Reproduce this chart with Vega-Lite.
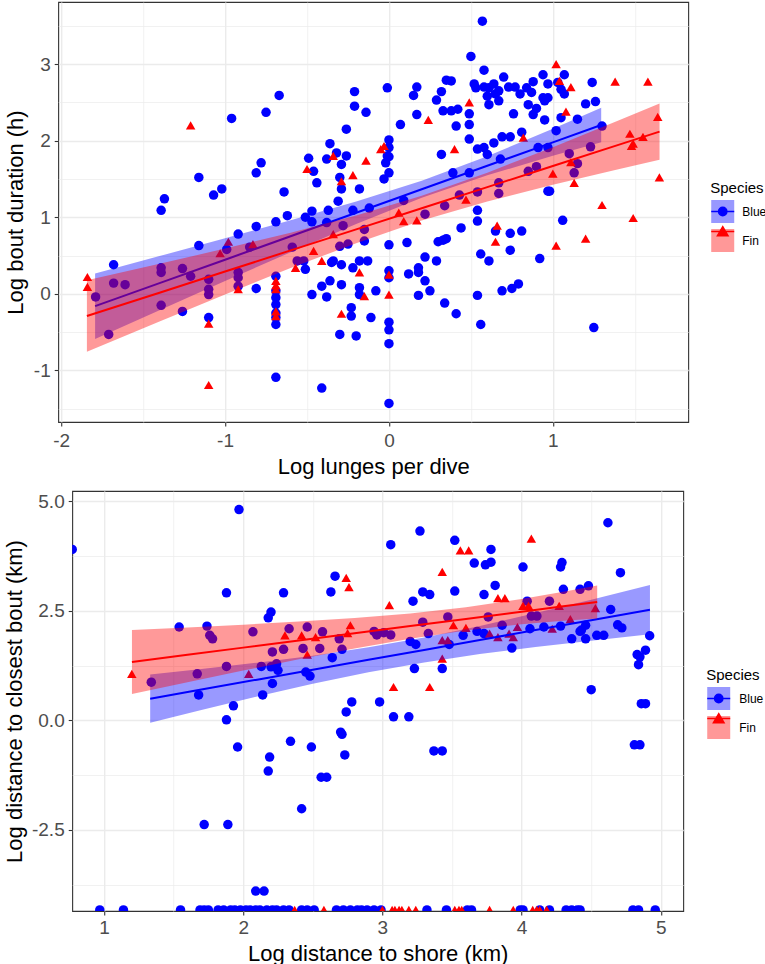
{
  "$schema": "https://vega.github.io/schema/vega-lite/v6.json",
  "background": "white",
  "padding": {"left": 2, "top": 1, "right": 0, "bottom": 0},
  "config": {
    "font": "Liberation Sans",
    "view": {"stroke": "#333333", "strokeWidth": 1.1},
    "axis": {
      "domain": false,
      "grid": true,
      "gridColor": "#EBEBEB",
      "tickColor": "#333333",
      "tickSize": 4,
      "tickWidth": 1.1,
      "labelColor": "#4D4D4D",
      "labelFontSize": 19,
      "labelFont": "Liberation Sans",
      "labelFlush": false,
      "labelOverlap": false,
      "titleFont": "Liberation Sans",
      "titleFontSize": 22,
      "titleFontWeight": "normal",
      "titleColor": "#000000"
    },
    "legend": {
      "orient": "none",
      "padding": 0,
      "titleFont": "Liberation Sans",
      "titleFontSize": 15,
      "titleFontWeight": "normal",
      "titleColor": "#000000",
      "titlePadding": 3,
      "labelFont": "Liberation Sans",
      "labelFontSize": 12,
      "labelColor": "#000000",
      "labelOffset": 8,
      "symbolSize": 529,
      "symbolStrokeWidth": 1.5,
      "rowPadding": 0
    }
  },
  "datasets": {
    "top_pts": [
      {"x": -1.68, "y": 0.38, "species": "Blue"}, {"x": -1.68, "y": 0.14, "species": "Blue"}, {"x": -1.61, "y": 0.12, "species": "Blue"},
      {"x": -1.79, "y": -0.04, "species": "Blue"}, {"x": -1.71, "y": -0.53, "species": "Blue"}, {"x": -1.37, "y": 1.24, "species": "Blue"},
      {"x": -1.39, "y": 1.09, "species": "Blue"}, {"x": -1.39, "y": 0.34, "species": "Blue"}, {"x": -1.39, "y": 0.28, "species": "Blue"},
      {"x": -1.39, "y": -0.15, "species": "Blue"}, {"x": -1.26, "y": 0.33, "species": "Blue"}, {"x": -1.21, "y": 0.23, "species": "Blue"},
      {"x": -1.26, "y": -0.23, "species": "Blue"}, {"x": -1.16, "y": 0.63, "species": "Blue"}, {"x": -1.16, "y": 1.52, "species": "Blue"},
      {"x": -1.10, "y": 0.19, "species": "Blue"}, {"x": -1.10, "y": 0.06, "species": "Blue"}, {"x": -1.10, "y": -0.01, "species": "Blue"},
      {"x": -1.10, "y": -0.31, "species": "Blue"}, {"x": -1.07, "y": 1.29, "species": "Blue"}, {"x": -1.02, "y": 1.37, "species": "Blue"},
      {"x": -0.99, "y": 0.58, "species": "Blue"}, {"x": -0.96, "y": 2.29, "species": "Blue"}, {"x": -0.92, "y": 0.78, "species": "Blue"},
      {"x": -0.92, "y": 0.28, "species": "Blue"}, {"x": -0.92, "y": 0.21, "species": "Blue"}, {"x": -0.92, "y": 0.10, "species": "Blue"},
      {"x": -0.85, "y": 0.61, "species": "Blue"}, {"x": -0.81, "y": 0.88, "species": "Blue"}, {"x": -0.81, "y": 0.07, "species": "Blue"},
      {"x": -0.81, "y": 1.58, "species": "Blue"}, {"x": -0.78, "y": 1.71, "species": "Blue"}, {"x": -0.75, "y": 2.37, "species": "Blue"},
      {"x": -0.67, "y": 2.59, "species": "Blue"}, {"x": -0.69, "y": 0.94, "species": "Blue"}, {"x": -0.69, "y": 0.23, "species": "Blue"},
      {"x": -0.69, "y": 0.04, "species": "Blue"}, {"x": -0.69, "y": -0.05, "species": "Blue"}, {"x": -0.69, "y": -0.14, "species": "Blue"},
      {"x": -0.69, "y": -0.25, "species": "Blue"}, {"x": -0.69, "y": -0.31, "species": "Blue"}, {"x": -0.69, "y": -0.40, "species": "Blue"},
      {"x": -0.69, "y": -1.09, "species": "Blue"}, {"x": -0.64, "y": 1.33, "species": "Blue"}, {"x": -0.62, "y": 1.02, "species": "Blue"},
      {"x": -0.59, "y": 0.61, "species": "Blue"}, {"x": -0.56, "y": 0.43, "species": "Blue"}, {"x": -0.52, "y": 0.43, "species": "Blue"},
      {"x": -0.51, "y": 0.32, "species": "Blue"}, {"x": -0.51, "y": 1.00, "species": "Blue"}, {"x": -0.49, "y": 1.77, "species": "Blue"},
      {"x": -0.47, "y": 0.94, "species": "Blue"}, {"x": -0.46, "y": 1.60, "species": "Blue"}, {"x": -0.44, "y": 1.45, "species": "Blue"},
      {"x": -0.47, "y": 1.08, "species": "Blue"}, {"x": -0.47, "y": -0.01, "species": "Blue"}, {"x": -0.41, "y": -1.23, "species": "Blue"},
      {"x": -0.41, "y": 0.10, "species": "Blue"}, {"x": -0.38, "y": -0.04, "species": "Blue"}, {"x": -0.38, "y": 0.93, "species": "Blue"},
      {"x": -0.37, "y": 1.09, "species": "Blue"}, {"x": -0.38, "y": 1.76, "species": "Blue"}, {"x": -0.36, "y": 1.96, "species": "Blue"},
      {"x": -0.35, "y": 0.41, "species": "Blue"}, {"x": -0.36, "y": 0.17, "species": "Blue"}, {"x": -0.32, "y": 1.84, "species": "Blue"},
      {"x": -0.29, "y": 1.69, "species": "Blue"}, {"x": -0.30, "y": 1.52, "species": "Blue"}, {"x": -0.29, "y": 1.37, "species": "Blue"},
      {"x": -0.26, "y": 1.80, "species": "Blue"}, {"x": -0.26, "y": 2.15, "species": "Blue"}, {"x": -0.21, "y": 2.64, "species": "Blue"},
      {"x": -0.21, "y": 2.45, "species": "Blue"}, {"x": -0.14, "y": 2.37, "species": "Blue"}, {"x": -0.18, "y": 1.37, "species": "Blue"},
      {"x": -0.22, "y": 1.09, "species": "Blue"}, {"x": -0.31, "y": 1.21, "species": "Blue"}, {"x": -0.30, "y": 0.62, "species": "Blue"},
      {"x": -0.25, "y": 0.65, "species": "Blue"}, {"x": -0.28, "y": 0.89, "species": "Blue"}, {"x": -0.34, "y": 0.43, "species": "Blue"},
      {"x": -0.29, "y": 0.38, "species": "Blue"}, {"x": -0.29, "y": 0.12, "species": "Blue"}, {"x": -0.22, "y": 0.34, "species": "Blue"},
      {"x": -0.18, "y": 0.43, "species": "Blue"}, {"x": -0.13, "y": 0.43, "species": "Blue"}, {"x": -0.18, "y": 0.08, "species": "Blue"},
      {"x": -0.18, "y": -0.01, "species": "Blue"}, {"x": -0.23, "y": -0.18, "species": "Blue"}, {"x": -0.23, "y": -0.29, "species": "Blue"},
      {"x": -0.11, "y": -0.31, "species": "Blue"}, {"x": -0.15, "y": 0.84, "species": "Blue"}, {"x": -0.15, "y": 0.69, "species": "Blue"},
      {"x": -0.12, "y": 1.12, "species": "Blue"}, {"x": -0.08, "y": 0.04, "species": "Blue"}, {"x": -0.30, "y": -0.53, "species": "Blue"},
      {"x": -0.20, "y": -0.55, "species": "Blue"},
      {"x": 0.57, "y": 3.56, "species": "Blue"}, {"x": 0.50, "y": 3.10, "species": "Blue"}, {"x": 0.58, "y": 2.92, "species": "Blue"},
      {"x": -0.01, "y": 2.69, "species": "Blue"}, {"x": 0.17, "y": 2.70, "species": "Blue"}, {"x": 0.15, "y": 2.59, "species": "Blue"},
      {"x": 0.32, "y": 2.64, "species": "Blue"}, {"x": 0.35, "y": 2.79, "species": "Blue"}, {"x": 0.38, "y": 2.78, "species": "Blue"},
      {"x": 0.29, "y": 2.53, "species": "Blue"}, {"x": 0.33, "y": 2.39, "species": "Blue"}, {"x": 0.38, "y": 2.39, "species": "Blue"},
      {"x": 0.42, "y": 2.41, "species": "Blue"}, {"x": 0.17, "y": 2.34, "species": "Blue"}, {"x": 0.07, "y": 2.21, "species": "Blue"},
      {"x": 0.41, "y": 2.19, "species": "Blue"}, {"x": 0.49, "y": 2.35, "species": "Blue"}, {"x": 0.49, "y": 2.21, "species": "Blue"},
      {"x": 0.49, "y": 2.02, "species": "Blue"}, {"x": 0.00, "y": 2.01, "species": "Blue"}, {"x": 0.00, "y": 1.91, "species": "Blue"},
      {"x": -0.01, "y": 1.80, "species": "Blue"}, {"x": 0.00, "y": 1.79, "species": "Blue"}, {"x": -0.02, "y": 1.71, "species": "Blue"},
      {"x": -0.03, "y": 1.50, "species": "Blue"}, {"x": 0.00, "y": 1.58, "species": "Blue"}, {"x": 0.32, "y": 1.82, "species": "Blue"},
      {"x": 0.39, "y": 1.58, "species": "Blue"}, {"x": 0.49, "y": 1.58, "species": "Blue"}, {"x": 0.54, "y": 1.89, "species": "Blue"},
      {"x": 0.58, "y": 1.91, "species": "Blue"}, {"x": 0.60, "y": 1.82, "species": "Blue"}, {"x": 0.64, "y": 1.97, "species": "Blue"},
      {"x": 0.69, "y": 2.05, "species": "Blue"}, {"x": 0.74, "y": 2.05, "species": "Blue"}, {"x": 0.68, "y": 1.76, "species": "Blue"},
      {"x": 0.52, "y": 2.74, "species": "Blue"}, {"x": 0.53, "y": 2.69, "species": "Blue"}, {"x": 0.58, "y": 2.70, "species": "Blue"},
      {"x": 0.61, "y": 2.69, "species": "Blue"}, {"x": 0.64, "y": 2.74, "species": "Blue"}, {"x": 0.67, "y": 2.65, "species": "Blue"},
      {"x": 0.60, "y": 2.58, "species": "Blue"}, {"x": 0.65, "y": 2.61, "species": "Blue"}, {"x": 0.70, "y": 2.83, "species": "Blue"},
      {"x": 0.73, "y": 2.70, "species": "Blue"}, {"x": 0.77, "y": 2.70, "species": "Blue"}, {"x": 0.80, "y": 2.61, "species": "Blue"},
      {"x": 0.84, "y": 2.69, "species": "Blue"}, {"x": 0.88, "y": 2.77, "species": "Blue"}, {"x": 0.87, "y": 2.63, "species": "Blue"},
      {"x": 0.94, "y": 2.86, "species": "Blue"}, {"x": 0.97, "y": 2.74, "species": "Blue"}, {"x": 0.94, "y": 2.56, "species": "Blue"},
      {"x": 0.95, "y": 2.52, "species": "Blue"}, {"x": 0.97, "y": 2.56, "species": "Blue"}, {"x": 1.03, "y": 2.76, "species": "Blue"},
      {"x": 1.07, "y": 2.86, "species": "Blue"}, {"x": 1.07, "y": 2.61, "species": "Blue"}, {"x": 1.05, "y": 2.67, "species": "Blue"},
      {"x": 0.61, "y": 2.47, "species": "Blue"}, {"x": 0.67, "y": 2.52, "species": "Blue"}, {"x": 0.76, "y": 2.35, "species": "Blue"},
      {"x": 0.85, "y": 2.47, "species": "Blue"}, {"x": 0.90, "y": 2.42, "species": "Blue"}, {"x": 0.88, "y": 2.34, "species": "Blue"},
      {"x": 0.95, "y": 2.27, "species": "Blue"}, {"x": 1.05, "y": 2.30, "species": "Blue"}, {"x": 1.15, "y": 2.28, "species": "Blue"},
      {"x": 1.24, "y": 2.76, "species": "Blue"}, {"x": 1.26, "y": 2.51, "species": "Blue"}, {"x": 1.20, "y": 2.48, "species": "Blue"},
      {"x": 1.30, "y": 2.19, "species": "Blue"}, {"x": 1.02, "y": 2.13, "species": "Blue"}, {"x": 0.81, "y": 2.11, "species": "Blue"},
      {"x": 0.91, "y": 1.91, "species": "Blue"}, {"x": 0.97, "y": 1.91, "species": "Blue"}, {"x": 1.23, "y": 1.92, "species": "Blue"},
      {"x": 1.10, "y": 1.83, "species": "Blue"}, {"x": 1.15, "y": 1.70, "species": "Blue"}, {"x": 1.13, "y": 1.58, "species": "Blue"},
      {"x": 0.90, "y": 1.66, "species": "Blue"}, {"x": 0.85, "y": 1.60, "species": "Blue"}, {"x": 0.67, "y": 1.45, "species": "Blue"},
      {"x": 0.67, "y": 1.31, "species": "Blue"}, {"x": 0.54, "y": 1.33, "species": "Blue"}, {"x": 0.43, "y": 1.29, "species": "Blue"},
      {"x": 0.34, "y": 1.15, "species": "Blue"}, {"x": 0.22, "y": 1.04, "species": "Blue"}, {"x": 0.09, "y": 1.22, "species": "Blue"},
      {"x": 0.54, "y": 1.09, "species": "Blue"}, {"x": 0.54, "y": 0.95, "species": "Blue"}, {"x": 0.44, "y": 0.86, "species": "Blue"},
      {"x": 0.65, "y": 0.82, "species": "Blue"}, {"x": 0.74, "y": 0.79, "species": "Blue"}, {"x": 0.81, "y": 0.82, "species": "Blue"},
      {"x": 0.97, "y": 1.34, "species": "Blue"}, {"x": 0.98, "y": 1.34, "species": "Blue"}, {"x": 1.06, "y": 0.96, "species": "Blue"},
      {"x": 0.92, "y": 0.46, "species": "Blue"}, {"x": 0.74, "y": 0.57, "species": "Blue"}, {"x": 0.56, "y": 0.52, "species": "Blue"},
      {"x": 0.61, "y": 0.43, "species": "Blue"}, {"x": 0.29, "y": 0.43, "species": "Blue"}, {"x": 0.22, "y": 0.48, "species": "Blue"},
      {"x": 0.18, "y": 0.34, "species": "Blue"}, {"x": 0.18, "y": 0.28, "species": "Blue"}, {"x": 0.22, "y": 0.17, "species": "Blue"},
      {"x": 0.25, "y": 0.04, "species": "Blue"}, {"x": 0.12, "y": 0.26, "species": "Blue"}, {"x": 0.30, "y": 0.68, "species": "Blue"},
      {"x": 0.33, "y": 0.70, "species": "Blue"}, {"x": 0.35, "y": 0.72, "species": "Blue"}, {"x": 0.11, "y": 0.67, "species": "Blue"},
      {"x": 0.00, "y": 0.64, "species": "Blue"}, {"x": 0.00, "y": 0.30, "species": "Blue"}, {"x": 0.00, "y": 0.21, "species": "Blue"},
      {"x": 0.00, "y": -0.37, "species": "Blue"}, {"x": 0.00, "y": -0.47, "species": "Blue"}, {"x": 0.00, "y": -0.65, "species": "Blue"},
      {"x": 0.00, "y": -1.43, "species": "Blue"}, {"x": 0.34, "y": -0.12, "species": "Blue"}, {"x": 0.41, "y": -0.26, "species": "Blue"},
      {"x": 0.54, "y": -0.02, "species": "Blue"}, {"x": 0.56, "y": -0.40, "species": "Blue"}, {"x": 0.69, "y": 0.04, "species": "Blue"},
      {"x": 0.75, "y": 0.07, "species": "Blue"}, {"x": 0.79, "y": 0.13, "species": "Blue"}, {"x": 0.18, "y": -0.02, "species": "Blue"},
      {"x": 1.25, "y": -0.44, "species": "Blue"},
      {"x": -1.84, "y": 0.22, "species": "Fin"}, {"x": -1.84, "y": 0.09, "species": "Fin"}, {"x": -1.21, "y": 2.20, "species": "Fin"},
      {"x": -1.10, "y": -0.39, "species": "Fin"}, {"x": -1.10, "y": -1.19, "species": "Fin"}, {"x": -1.03, "y": 0.53, "species": "Fin"},
      {"x": -0.98, "y": 0.68, "species": "Fin"}, {"x": -0.92, "y": 0.06, "species": "Fin"}, {"x": -0.83, "y": 0.65, "species": "Fin"},
      {"x": -0.69, "y": 0.17, "species": "Fin"}, {"x": -0.69, "y": 0.11, "species": "Fin"}, {"x": -0.69, "y": 0.06, "species": "Fin"},
      {"x": -0.69, "y": -0.23, "species": "Fin"}, {"x": -0.69, "y": -0.29, "species": "Fin"}, {"x": -0.57, "y": 0.34, "species": "Fin"},
      {"x": -0.50, "y": 1.63, "species": "Fin"}, {"x": -0.46, "y": 0.56, "species": "Fin"}, {"x": -0.41, "y": 0.43, "species": "Fin"},
      {"x": -0.34, "y": 0.78, "species": "Fin"}, {"x": -0.34, "y": 1.80, "species": "Fin"}, {"x": -0.29, "y": 1.47, "species": "Fin"},
      {"x": -0.29, "y": -0.26, "species": "Fin"}, {"x": -0.22, "y": 1.55, "species": "Fin"}, {"x": -0.18, "y": 0.28, "species": "Fin"},
      {"x": -0.15, "y": -0.03, "species": "Fin"}, {"x": -0.14, "y": 1.74, "species": "Fin"}, {"x": -0.05, "y": 1.89, "species": "Fin"},
      {"x": 1.02, "y": 3.00, "species": "Fin"}, {"x": 1.04, "y": 2.78, "species": "Fin"}, {"x": 1.11, "y": 2.70, "species": "Fin"},
      {"x": 1.38, "y": 2.77, "species": "Fin"}, {"x": 1.58, "y": 2.77, "species": "Fin"}, {"x": 1.64, "y": 2.31, "species": "Fin"},
      {"x": 0.49, "y": 2.50, "species": "Fin"}, {"x": 0.24, "y": 2.27, "species": "Fin"}, {"x": 1.08, "y": 2.38, "species": "Fin"},
      {"x": 0.82, "y": 2.04, "species": "Fin"}, {"x": -0.03, "y": 1.93, "species": "Fin"}, {"x": 0.40, "y": 1.89, "species": "Fin"},
      {"x": 1.47, "y": 2.09, "species": "Fin"}, {"x": 1.55, "y": 2.05, "species": "Fin"}, {"x": 1.49, "y": 1.96, "species": "Fin"},
      {"x": 1.48, "y": 1.93, "species": "Fin"}, {"x": 1.11, "y": 1.72, "species": "Fin"}, {"x": 1.00, "y": 1.57, "species": "Fin"},
      {"x": 1.13, "y": 1.45, "species": "Fin"}, {"x": 1.65, "y": 1.52, "species": "Fin"}, {"x": 1.30, "y": 1.16, "species": "Fin"},
      {"x": 1.49, "y": 0.99, "species": "Fin"}, {"x": 1.20, "y": 0.72, "species": "Fin"}, {"x": 1.02, "y": 0.63, "species": "Fin"},
      {"x": 0.47, "y": 1.23, "species": "Fin"}, {"x": 0.06, "y": 1.06, "species": "Fin"}, {"x": 0.09, "y": 0.95, "species": "Fin"},
      {"x": 0.17, "y": 0.96, "species": "Fin"}, {"x": 0.66, "y": 0.89, "species": "Fin"}, {"x": 0.65, "y": 0.68, "species": "Fin"},
      {"x": 0.00, "y": 0.25, "species": "Fin"}, {"x": 0.00, "y": -0.01, "species": "Fin"}
    ],
    "top_fit": [
      {"species": "Blue", "x": -1.793, "fit": -0.161, "lo": -0.589, "hi": 0.267},
      {"species": "Blue", "x": -1.4, "fit": 0.140, "lo": -0.213, "hi": 0.493},
      {"species": "Blue", "x": -1.0, "fit": 0.446, "lo": 0.167, "hi": 0.725},
      {"species": "Blue", "x": -0.6, "fit": 0.752, "lo": 0.543, "hi": 0.961},
      {"species": "Blue", "x": -0.2, "fit": 1.059, "lo": 0.912, "hi": 1.206},
      {"species": "Blue", "x": 0.2, "fit": 1.365, "lo": 1.254, "hi": 1.476},
      {"species": "Blue", "x": 0.6, "fit": 1.672, "lo": 1.547, "hi": 1.797},
      {"species": "Blue", "x": 1.0, "fit": 1.978, "lo": 1.802, "hi": 2.154},
      {"species": "Blue", "x": 1.295, "fit": 2.204, "lo": 1.979, "hi": 2.429},
      {"species": "Fin", "x": -1.843, "fit": -0.290, "lo": -0.757, "hi": 0.177},
      {"species": "Fin", "x": -1.4, "fit": 0.015, "lo": -0.362, "hi": 0.392},
      {"species": "Fin", "x": -1.0, "fit": 0.291, "lo": -0.009, "hi": 0.591},
      {"species": "Fin", "x": -0.6, "fit": 0.567, "lo": 0.336, "hi": 0.798},
      {"species": "Fin", "x": -0.2, "fit": 0.842, "lo": 0.662, "hi": 1.022},
      {"species": "Fin", "x": 0.2, "fit": 1.118, "lo": 0.956, "hi": 1.280},
      {"species": "Fin", "x": 0.6, "fit": 1.393, "lo": 1.204, "hi": 1.582},
      {"species": "Fin", "x": 1.0, "fit": 1.669, "lo": 1.423, "hi": 1.915},
      {"species": "Fin", "x": 1.4, "fit": 1.945, "lo": 1.627, "hi": 2.263},
      {"species": "Fin", "x": 1.651, "fit": 2.118, "lo": 1.752, "hi": 2.484}
    ],
    "bot_pts": [
      {"x": 0.772, "y": 3.90, "species": "Blue"}, {"x": 1.97, "y": 4.81, "species": "Blue"}, {"x": 1.88, "y": 2.91, "species": "Blue"},
      {"x": 2.29, "y": 2.91, "species": "Blue"}, {"x": 2.63, "y": 2.93, "species": "Blue"}, {"x": 2.66, "y": 3.29, "species": "Blue"},
      {"x": 1.54, "y": 2.13, "species": "Blue"}, {"x": 1.74, "y": 2.15, "species": "Blue"}, {"x": 1.76, "y": 1.94, "species": "Blue"},
      {"x": 1.78, "y": 1.86, "species": "Blue"}, {"x": 2.07, "y": 2.02, "species": "Blue"}, {"x": 2.18, "y": 2.34, "species": "Blue"},
      {"x": 2.20, "y": 2.47, "species": "Blue"}, {"x": 2.33, "y": 2.09, "species": "Blue"}, {"x": 2.29, "y": 1.62, "species": "Blue"},
      {"x": 2.21, "y": 1.56, "species": "Blue"}, {"x": 2.43, "y": 1.64, "species": "Blue"}, {"x": 2.46, "y": 2.13, "species": "Blue"},
      {"x": 2.55, "y": 1.64, "species": "Blue"}, {"x": 2.57, "y": 2.02, "species": "Blue"}, {"x": 2.69, "y": 1.86, "species": "Blue"},
      {"x": 2.71, "y": 1.62, "species": "Blue"}, {"x": 2.64, "y": 1.43, "species": "Blue"}, {"x": 2.94, "y": 2.03, "species": "Blue"},
      {"x": 2.96, "y": 1.95, "species": "Blue"}, {"x": 1.67, "y": 1.06, "species": "Blue"}, {"x": 1.88, "y": 1.23, "species": "Blue"},
      {"x": 2.13, "y": 1.23, "species": "Blue"}, {"x": 2.20, "y": 1.22, "species": "Blue"}, {"x": 2.24, "y": 1.29, "species": "Blue"},
      {"x": 2.25, "y": 1.14, "species": "Blue"}, {"x": 2.45, "y": 1.10, "species": "Blue"}, {"x": 2.48, "y": 1.01, "species": "Blue"},
      {"x": 2.21, "y": 0.84, "species": "Blue"}, {"x": 1.34, "y": 0.87, "species": "Blue"}, {"x": 1.68, "y": 0.58, "species": "Blue"},
      {"x": 2.14, "y": 0.58, "species": "Blue"}, {"x": 1.93, "y": 0.33, "species": "Blue"}, {"x": 1.88, "y": 0.01, "species": "Blue"},
      {"x": 2.78, "y": 0.42, "species": "Blue"}, {"x": 2.74, "y": 0.19, "species": "Blue"}, {"x": 2.98, "y": 0.42, "species": "Blue"},
      {"x": 2.70, "y": -0.27, "species": "Blue"}, {"x": 1.96, "y": -0.61, "species": "Blue"}, {"x": 2.19, "y": -0.84, "species": "Blue"},
      {"x": 2.18, "y": -1.16, "species": "Blue"}, {"x": 2.34, "y": -0.48, "species": "Blue"}, {"x": 2.49, "y": -0.61, "species": "Blue"},
      {"x": 2.71, "y": -0.32, "species": "Blue"}, {"x": 2.73, "y": -0.79, "species": "Blue"}, {"x": 2.56, "y": -1.30, "species": "Blue"},
      {"x": 2.60, "y": -1.30, "species": "Blue"}, {"x": 2.42, "y": -2.02, "species": "Blue"}, {"x": 1.72, "y": -2.38, "species": "Blue"},
      {"x": 1.89, "y": -2.38, "species": "Blue"}, {"x": 2.09, "y": -3.90, "species": "Blue"}, {"x": 2.15, "y": -3.90, "species": "Blue"},
      {"x": 4.62, "y": 4.51, "species": "Blue"}, {"x": 3.27, "y": 4.32, "species": "Blue"}, {"x": 3.06, "y": 4.01, "species": "Blue"},
      {"x": 3.52, "y": 4.11, "species": "Blue"}, {"x": 3.78, "y": 3.90, "species": "Blue"}, {"x": 3.66, "y": 3.59, "species": "Blue"},
      {"x": 3.74, "y": 3.55, "species": "Blue"}, {"x": 3.78, "y": 3.61, "species": "Blue"}, {"x": 4.01, "y": 3.50, "species": "Blue"},
      {"x": 4.29, "y": 3.60, "species": "Blue"}, {"x": 4.28, "y": 3.50, "species": "Blue"}, {"x": 4.71, "y": 3.37, "species": "Blue"},
      {"x": 3.81, "y": 3.08, "species": "Blue"}, {"x": 3.52, "y": 2.95, "species": "Blue"}, {"x": 3.29, "y": 2.93, "species": "Blue"},
      {"x": 3.34, "y": 2.87, "species": "Blue"}, {"x": 3.22, "y": 2.72, "species": "Blue"}, {"x": 3.73, "y": 2.87, "species": "Blue"},
      {"x": 4.30, "y": 2.99, "species": "Blue"}, {"x": 4.42, "y": 2.99, "species": "Blue"}, {"x": 4.48, "y": 3.07, "species": "Blue"},
      {"x": 4.20, "y": 2.72, "species": "Blue"}, {"x": 4.04, "y": 2.72, "species": "Blue"}, {"x": 4.64, "y": 2.53, "species": "Blue"},
      {"x": 4.07, "y": 2.38, "species": "Blue"}, {"x": 4.11, "y": 2.38, "species": "Blue"}, {"x": 3.76, "y": 2.36, "species": "Blue"},
      {"x": 3.47, "y": 2.36, "species": "Blue"}, {"x": 3.29, "y": 2.24, "species": "Blue"}, {"x": 3.86, "y": 2.17, "species": "Blue"},
      {"x": 4.16, "y": 2.13, "species": "Blue"}, {"x": 4.28, "y": 2.15, "species": "Blue"}, {"x": 4.46, "y": 2.17, "species": "Blue"},
      {"x": 4.43, "y": 2.06, "species": "Blue"}, {"x": 4.42, "y": 2.03, "species": "Blue"}, {"x": 4.69, "y": 2.18, "species": "Blue"},
      {"x": 4.72, "y": 2.11, "species": "Blue"}, {"x": 3.68, "y": 2.03, "species": "Blue"}, {"x": 3.73, "y": 1.98, "species": "Blue"},
      {"x": 3.58, "y": 1.94, "species": "Blue"}, {"x": 4.06, "y": 2.09, "species": "Blue"}, {"x": 3.33, "y": 1.98, "species": "Blue"},
      {"x": 3.01, "y": 2.00, "species": "Blue"}, {"x": 3.06, "y": 1.95, "species": "Blue"}, {"x": 3.20, "y": 1.80, "species": "Blue"},
      {"x": 3.24, "y": 1.73, "species": "Blue"}, {"x": 3.48, "y": 1.73, "species": "Blue"}, {"x": 3.93, "y": 1.65, "species": "Blue"},
      {"x": 4.36, "y": 1.86, "species": "Blue"}, {"x": 4.46, "y": 1.86, "species": "Blue"}, {"x": 4.54, "y": 1.94, "species": "Blue"},
      {"x": 4.59, "y": 1.94, "species": "Blue"}, {"x": 4.92, "y": 1.93, "species": "Blue"}, {"x": 4.83, "y": 1.50, "species": "Blue"},
      {"x": 4.85, "y": 1.45, "species": "Blue"}, {"x": 4.84, "y": 1.27, "species": "Blue"}, {"x": 4.89, "y": 1.60, "species": "Blue"},
      {"x": 3.23, "y": 1.18, "species": "Blue"}, {"x": 3.43, "y": 1.18, "species": "Blue"}, {"x": 4.50, "y": 0.70, "species": "Blue"},
      {"x": 4.86, "y": 0.38, "species": "Blue"}, {"x": 4.89, "y": 0.38, "species": "Blue"}, {"x": 3.08, "y": 0.08, "species": "Blue"},
      {"x": 3.19, "y": 0.08, "species": "Blue"}, {"x": 4.81, "y": -0.56, "species": "Blue"}, {"x": 4.85, "y": -0.56, "species": "Blue"},
      {"x": 3.37, "y": -0.70, "species": "Blue"}, {"x": 3.43, "y": -0.70, "species": "Blue"},
      {"x": 0.97, "y": -4.33, "species": "Blue"}, {"x": 1.14, "y": -4.33, "species": "Blue"}, {"x": 1.55, "y": -4.33, "species": "Blue"},
      {"x": 1.69, "y": -4.33, "species": "Blue"}, {"x": 1.72, "y": -4.33, "species": "Blue"}, {"x": 1.75, "y": -4.33, "species": "Blue"},
      {"x": 1.82, "y": -4.33, "species": "Blue"}, {"x": 1.86, "y": -4.33, "species": "Blue"}, {"x": 1.91, "y": -4.33, "species": "Blue"},
      {"x": 1.94, "y": -4.33, "species": "Blue"}, {"x": 1.98, "y": -4.33, "species": "Blue"}, {"x": 2.02, "y": -4.33, "species": "Blue"},
      {"x": 2.05, "y": -4.33, "species": "Blue"}, {"x": 2.09, "y": -4.33, "species": "Blue"}, {"x": 2.12, "y": -4.33, "species": "Blue"},
      {"x": 2.17, "y": -4.33, "species": "Blue"}, {"x": 2.21, "y": -4.33, "species": "Blue"}, {"x": 2.24, "y": -4.33, "species": "Blue"},
      {"x": 2.29, "y": -4.33, "species": "Blue"}, {"x": 2.33, "y": -4.33, "species": "Blue"}, {"x": 2.42, "y": -4.33, "species": "Blue"},
      {"x": 2.46, "y": -4.33, "species": "Blue"}, {"x": 2.51, "y": -4.33, "species": "Blue"}, {"x": 2.67, "y": -4.33, "species": "Blue"},
      {"x": 2.72, "y": -4.33, "species": "Blue"}, {"x": 2.77, "y": -4.33, "species": "Blue"}, {"x": 2.82, "y": -4.33, "species": "Blue"},
      {"x": 2.85, "y": -4.33, "species": "Blue"}, {"x": 2.89, "y": -4.33, "species": "Blue"}, {"x": 2.94, "y": -4.33, "species": "Blue"},
      {"x": 2.99, "y": -4.33, "species": "Blue"}, {"x": 3.32, "y": -4.33, "species": "Blue"}, {"x": 3.46, "y": -4.33, "species": "Blue"},
      {"x": 3.61, "y": -4.33, "species": "Blue"}, {"x": 3.64, "y": -4.33, "species": "Blue"}, {"x": 3.99, "y": -4.33, "species": "Blue"},
      {"x": 4.01, "y": -4.33, "species": "Blue"}, {"x": 4.13, "y": -4.33, "species": "Blue"}, {"x": 4.20, "y": -4.33, "species": "Blue"},
      {"x": 4.32, "y": -4.33, "species": "Blue"}, {"x": 4.36, "y": -4.33, "species": "Blue"}, {"x": 4.40, "y": -4.33, "species": "Blue"},
      {"x": 4.42, "y": -4.33, "species": "Blue"}, {"x": 4.80, "y": -4.33, "species": "Blue"}, {"x": 4.84, "y": -4.33, "species": "Blue"},
      {"x": 4.96, "y": -4.33, "species": "Blue"},
      {"x": 2.74, "y": 3.25, "species": "Fin"}, {"x": 2.76, "y": 3.04, "species": "Fin"}, {"x": 1.20, "y": 1.06, "species": "Fin"},
      {"x": 2.04, "y": 1.06, "species": "Fin"}, {"x": 2.30, "y": 1.94, "species": "Fin"}, {"x": 2.42, "y": 1.94, "species": "Fin"},
      {"x": 2.52, "y": 1.90, "species": "Fin"}, {"x": 2.46, "y": 1.50, "species": "Fin"}, {"x": 2.75, "y": 1.99, "species": "Fin"},
      {"x": 2.77, "y": 2.17, "species": "Fin"}, {"x": 4.07, "y": 4.15, "species": "Fin"}, {"x": 3.56, "y": 3.88, "species": "Fin"},
      {"x": 3.62, "y": 3.88, "species": "Fin"}, {"x": 3.43, "y": 3.39, "species": "Fin"}, {"x": 3.05, "y": 2.63, "species": "Fin"},
      {"x": 3.83, "y": 2.79, "species": "Fin"}, {"x": 3.88, "y": 2.79, "species": "Fin"}, {"x": 4.01, "y": 2.61, "species": "Fin"},
      {"x": 4.05, "y": 2.61, "species": "Fin"}, {"x": 4.27, "y": 2.61, "species": "Fin"}, {"x": 4.53, "y": 2.56, "species": "Fin"},
      {"x": 3.51, "y": 2.17, "species": "Fin"}, {"x": 3.60, "y": 2.11, "species": "Fin"}, {"x": 3.43, "y": 1.83, "species": "Fin"},
      {"x": 3.47, "y": 1.83, "species": "Fin"}, {"x": 3.77, "y": 1.98, "species": "Fin"}, {"x": 3.83, "y": 1.90, "species": "Fin"},
      {"x": 3.91, "y": 1.98, "species": "Fin"}, {"x": 3.94, "y": 1.90, "species": "Fin"}, {"x": 3.97, "y": 2.13, "species": "Fin"},
      {"x": 4.22, "y": 2.09, "species": "Fin"}, {"x": 4.35, "y": 2.31, "species": "Fin"}, {"x": 3.43, "y": 1.41, "species": "Fin"},
      {"x": 3.08, "y": 0.76, "species": "Fin"}, {"x": 3.34, "y": 0.76, "species": "Fin"},
      {"x": 2.37, "y": -4.33, "species": "Fin"}, {"x": 2.58, "y": -4.33, "species": "Fin"}, {"x": 3.00, "y": -4.33, "species": "Fin"},
      {"x": 3.07, "y": -4.33, "species": "Fin"}, {"x": 3.09, "y": -4.33, "species": "Fin"}, {"x": 3.12, "y": -4.33, "species": "Fin"},
      {"x": 3.14, "y": -4.33, "species": "Fin"}, {"x": 3.19, "y": -4.33, "species": "Fin"}, {"x": 3.24, "y": -4.33, "species": "Fin"},
      {"x": 3.52, "y": -4.33, "species": "Fin"}, {"x": 3.55, "y": -4.33, "species": "Fin"}, {"x": 3.57, "y": -4.33, "species": "Fin"},
      {"x": 3.77, "y": -4.33, "species": "Fin"}, {"x": 3.94, "y": -4.33, "species": "Fin"}, {"x": 4.08, "y": -4.33, "species": "Fin"},
      {"x": 4.11, "y": -4.33, "species": "Fin"}, {"x": 4.13, "y": -4.33, "species": "Fin"}, {"x": 4.18, "y": -4.33, "species": "Fin"}
    ],
    "bot_fit": [
      {"species": "Blue", "x": 1.332, "fit": 0.493, "lo": -0.057, "hi": 1.043},
      {"species": "Blue", "x": 1.7, "fit": 0.701, "lo": 0.233, "hi": 1.169},
      {"species": "Blue", "x": 2.1, "fit": 0.928, "lo": 0.541, "hi": 1.315},
      {"species": "Blue", "x": 2.5, "fit": 1.154, "lo": 0.832, "hi": 1.476},
      {"species": "Blue", "x": 2.9, "fit": 1.380, "lo": 1.095, "hi": 1.665},
      {"species": "Blue", "x": 3.3, "fit": 1.607, "lo": 1.322, "hi": 1.892},
      {"species": "Blue", "x": 3.7, "fit": 1.833, "lo": 1.511, "hi": 2.155},
      {"species": "Blue", "x": 4.1, "fit": 2.060, "lo": 1.673, "hi": 2.447},
      {"species": "Blue", "x": 4.5, "fit": 2.286, "lo": 1.818, "hi": 2.754},
      {"species": "Blue", "x": 4.922, "fit": 2.525, "lo": 1.963, "hi": 3.087},
      {"species": "Fin", "x": 1.201, "fit": 1.331, "lo": 0.603, "hi": 2.059},
      {"species": "Fin", "x": 1.6, "fit": 1.495, "lo": 0.871, "hi": 2.119},
      {"species": "Fin", "x": 2.0, "fit": 1.659, "lo": 1.135, "hi": 2.183},
      {"species": "Fin", "x": 2.4, "fit": 1.823, "lo": 1.393, "hi": 2.253},
      {"species": "Fin", "x": 2.8, "fit": 1.987, "lo": 1.639, "hi": 2.335},
      {"species": "Fin", "x": 3.2, "fit": 2.151, "lo": 1.863, "hi": 2.439},
      {"species": "Fin", "x": 3.6, "fit": 2.315, "lo": 2.050, "hi": 2.580},
      {"species": "Fin", "x": 4.0, "fit": 2.479, "lo": 2.191, "hi": 2.767},
      {"species": "Fin", "x": 4.3, "fit": 2.602, "lo": 2.272, "hi": 2.932},
      {"species": "Fin", "x": 4.543, "fit": 2.702, "lo": 2.326, "hi": 3.078}
    ]
  },
  "columns": 1,
  "center": true,
  "spacing": 12,
  "resolve": {
    "scale": {"x": "independent", "y": "independent", "color": "independent", "shape": "independent", "fill": "independent", "stroke": "independent"},
    "legend": {"shape": "independent", "fill": "independent", "color": "independent", "stroke": "independent"}
  },
  "concat": [
    {
      "width": 630,
      "height": 420,
      "resolve": {
        "scale": {"color": "independent", "shape": "independent", "stroke": "independent"},
        "legend": {"color": "independent", "shape": "independent", "stroke": "independent"}
      },
      "layer": [
        {
          "data": {"name": "top_pts"},
          "mark": {"type": "point", "filled": true, "opacity": 1, "size": 90, "strokeWidth": 0, "clip": true},
          "encoding": {
            "x": {
              "field": "x", "type": "quantitative", "title": "Log lunges per dive",
              "scale": {"domain": [-2.018, 1.826], "nice": false, "zero": false},
              "axis": {
                "values": [-2, -1.5, -1, -0.5, 0, 0.5, 1, 1.5],
                "labelExpr": "datum.value % 1 === 0 ? '' + datum.value : ''",
                "labelPadding": 5, "titlePadding": 6,
                "tickOpacity": {"condition": {"test": "datum.value % 1 !== 0", "value": 0}, "value": 1},
                "gridWidth": {"condition": {"test": "datum.value % 1 !== 0", "value": 0.7}, "value": 1.4}
              }
            },
            "y": {
              "field": "y", "type": "quantitative", "title": "Log bout duration (h)",
              "scale": {"domain": [-1.673, 3.81], "nice": false, "zero": false},
              "axis": {
                "values": [-1.5, -1, -0.5, 0, 0.5, 1, 1.5, 2, 2.5, 3, 3.5],
                "labelExpr": "datum.value % 1 === 0 ? '' + datum.value : ''",
                "labelPadding": 4, "titlePadding": 6,
                "tickOpacity": {"condition": {"test": "datum.value % 1 !== 0", "value": 0}, "value": 1},
                "gridWidth": {"condition": {"test": "datum.value % 1 !== 0", "value": 0.7}, "value": 1.4}
              }
            },
            "color": {"field": "species", "type": "nominal", "scale": {"range": ["#0000FF", "#FF0000"]}, "legend": null},
            "shape": {"field": "species", "type": "nominal", "scale": {"range": ["circle", "triangle-up"]}, "legend": null}
          }
        },
        {
          "data": {"name": "top_fit"},
          "transform": [{"filter": "datum.species === 'Blue'"}],
          "mark": {"type": "area", "opacity": 0.4},
          "encoding": {
            "x": {"field": "x", "type": "quantitative", "title": "Log lunges per dive"},
            "y": {"field": "lo", "type": "quantitative", "title": "Log bout duration (h)"},
            "y2": {"field": "hi"},
            "fill": {
              "field": "species", "type": "nominal",
              "scale": {"range": ["#0000FF", "#FF0000"]},
              "legend": {
                "title": "Species", "symbolType": "square", "symbolOpacity": 0.4, "labelOffset": 7,
                "symbolStrokeColor": "transparent", "legendX": 652, "legendY": 179
              }
            }
          }
        },
        {
          "data": {"name": "top_fit"},
          "transform": [{"filter": "datum.species === 'Blue'"}],
          "mark": {"type": "line", "color": "#0000FF", "strokeWidth": 2},
          "encoding": {
            "x": {"field": "x", "type": "quantitative", "title": "Log lunges per dive"},
            "y": {"field": "fit", "type": "quantitative", "title": "Log bout duration (h)"}
          }
        },
        {
          "data": {"name": "top_fit"},
          "transform": [{"filter": "datum.species === 'Fin'"}],
          "mark": {"type": "area", "opacity": 0.4},
          "encoding": {
            "x": {"field": "x", "type": "quantitative", "title": "Log lunges per dive"},
            "y": {"field": "lo", "type": "quantitative", "title": "Log bout duration (h)"},
            "y2": {"field": "hi"},
            "fill": {"field": "species", "type": "nominal", "scale": {"range": ["#0000FF", "#FF0000"]}}
          }
        },
        {
          "data": {"name": "top_fit"},
          "transform": [{"filter": "datum.species === 'Fin'"}],
          "mark": {"type": "line", "color": "#FF0000", "strokeWidth": 2},
          "encoding": {
            "x": {"field": "x", "type": "quantitative", "title": "Log lunges per dive"},
            "y": {"field": "fit", "type": "quantitative", "title": "Log bout duration (h)"}
          }
        },
        {
          "data": {"name": "top_pts"},
          "transform": [{"filter": "false"}],
          "mark": {"type": "point", "filled": true, "opacity": 1},
          "encoding": {
            "color": {
              "field": "species", "type": "nominal",
              "scale": {"domain": ["Blue", "Fin"], "range": ["#0000FF", "#FF0000"]},
              "legend": {
                "title": "Species", "titleOpacity": 0, "labelExpr": "''", "labelOffset": 43,
                "symbolOpacity": 1, "legendX": 652, "legendY": 179
              }
            },
            "stroke": {
              "field": "species", "type": "nominal",
              "scale": {"domain": ["Blue", "Fin"], "range": ["#0000FF", "#FF0000"]}
            },
            "shape": {
              "field": "species", "type": "nominal",
              "scale": {
                "domain": ["Blue", "Fin"],
                "range": [
                  "M0.36,0A0.36,0.36,0,1,1,-0.36,0A0.36,0.36,0,1,1,0.36,0ZM-1,0L1,0",
                  "M0,-0.42L0.46,0.36L-0.46,0.36ZM-1,0L1,0"
                ]
              }
            }
          }
        }
      ]
    },
    {
      "width": 611,
      "height": 420,
      "resolve": {
        "scale": {"color": "independent", "shape": "independent", "stroke": "independent"},
        "legend": {"color": "independent", "shape": "independent", "stroke": "independent"}
      },
      "layer": [
        {
          "data": {"name": "bot_pts"},
          "mark": {"type": "point", "filled": true, "opacity": 1, "size": 90, "strokeWidth": 0, "clip": true},
          "encoding": {
            "x": {
              "field": "x", "type": "quantitative", "title": "Log distance to shore (km)",
              "scale": {"domain": [0.772, 5.161], "nice": false, "zero": false},
              "axis": {
                "values": [1, 1.5, 2, 2.5, 3, 3.5, 4, 4.5, 5],
                "labelExpr": "datum.value % 1 === 0 ? '' + datum.value : ''",
                "labelPadding": 3, "titlePadding": 6,
                "tickOpacity": {"condition": {"test": "datum.value % 1 !== 0", "value": 0}, "value": 1},
                "gridWidth": {"condition": {"test": "datum.value % 1 !== 0", "value": 0.7}, "value": 1.4}
              }
            },
            "y": {
              "field": "y", "type": "quantitative", "title": "Log distance to closest bout (km)",
              "scale": {"domain": [-4.354, 5.235], "nice": false, "zero": false},
              "axis": {
                "values": [-3.75, -2.5, -1.25, 0, 1.25, 2.5, 3.75, 5],
                "labelExpr": "datum.value % 2.5 === 0 ? replace(format(datum.value, '.1f'), '\u2212', '-') : ''",
                "labelPadding": 4, "titlePadding": 5,
                "tickOpacity": {"condition": {"test": "datum.value % 2.5 !== 0", "value": 0}, "value": 1},
                "gridWidth": {"condition": {"test": "datum.value % 2.5 !== 0", "value": 0.7}, "value": 1.4}
              }
            },
            "color": {"field": "species", "type": "nominal", "scale": {"range": ["#0000FF", "#FF0000"]}, "legend": null},
            "shape": {"field": "species", "type": "nominal", "scale": {"range": ["circle", "triangle-up"]}, "legend": null}
          }
        },
        {
          "data": {"name": "bot_fit"},
          "transform": [{"filter": "datum.species === 'Blue'"}],
          "mark": {"type": "area", "opacity": 0.4},
          "encoding": {
            "x": {"field": "x", "type": "quantitative", "title": "Log distance to shore (km)"},
            "y": {"field": "lo", "type": "quantitative", "title": "Log distance to closest bout (km)"},
            "y2": {"field": "hi"},
            "fill": {
              "field": "species", "type": "nominal",
              "scale": {"range": ["#0000FF", "#FF0000"]},
              "legend": {
                "title": "Species", "symbolType": "square", "symbolOpacity": 0.4,
                "symbolStrokeColor": "transparent", "legendX": 634, "legendY": 177
              }
            }
          }
        },
        {
          "data": {"name": "bot_fit"},
          "transform": [{"filter": "datum.species === 'Blue'"}],
          "mark": {"type": "line", "color": "#0000FF", "strokeWidth": 2},
          "encoding": {
            "x": {"field": "x", "type": "quantitative", "title": "Log distance to shore (km)"},
            "y": {"field": "fit", "type": "quantitative", "title": "Log distance to closest bout (km)"}
          }
        },
        {
          "data": {"name": "bot_fit"},
          "transform": [{"filter": "datum.species === 'Fin'"}],
          "mark": {"type": "area", "opacity": 0.4},
          "encoding": {
            "x": {"field": "x", "type": "quantitative", "title": "Log distance to shore (km)"},
            "y": {"field": "lo", "type": "quantitative", "title": "Log distance to closest bout (km)"},
            "y2": {"field": "hi"},
            "fill": {"field": "species", "type": "nominal", "scale": {"range": ["#0000FF", "#FF0000"]}}
          }
        },
        {
          "data": {"name": "bot_fit"},
          "transform": [{"filter": "datum.species === 'Fin'"}],
          "mark": {"type": "line", "color": "#FF0000", "strokeWidth": 2},
          "encoding": {
            "x": {"field": "x", "type": "quantitative", "title": "Log distance to shore (km)"},
            "y": {"field": "fit", "type": "quantitative", "title": "Log distance to closest bout (km)"}
          }
        },
        {
          "data": {"name": "bot_pts"},
          "transform": [{"filter": "false"}],
          "mark": {"type": "point", "filled": true, "opacity": 1},
          "encoding": {
            "color": {
              "field": "species", "type": "nominal",
              "scale": {"domain": ["Blue", "Fin"], "range": ["#0000FF", "#FF0000"]},
              "legend": {
                "title": "Species", "titleOpacity": 0, "labelExpr": "''",
                "symbolOpacity": 1, "legendX": 634, "legendY": 177
              }
            },
            "stroke": {
              "field": "species", "type": "nominal",
              "scale": {"domain": ["Blue", "Fin"], "range": ["#0000FF", "#FF0000"]}
            },
            "shape": {
              "field": "species", "type": "nominal",
              "scale": {
                "domain": ["Blue", "Fin"],
                "range": [
                  "M0.36,0A0.36,0.36,0,1,1,-0.36,0A0.36,0.36,0,1,1,0.36,0ZM-1,0L1,0",
                  "M0,-0.42L0.46,0.36L-0.46,0.36ZM-1,0L1,0"
                ]
              }
            }
          }
        }
      ]
    }
  ]
}
